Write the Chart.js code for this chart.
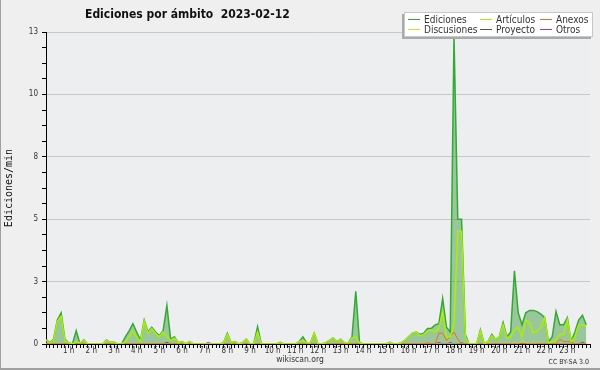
<!DOCTYPE html>
<html>
<head>
<meta charset="utf-8">
<title>Ediciones por ámbito</title>
<script src="https://cdn.jsdelivr.net/npm/chart.js@4.4.0/dist/chart.umd.min.js"></script>
<style>
body{margin:0;background:#efefef;}
canvas{display:block;}
</style>
</head>
<body>
<canvas id="myChart" width="600" height="370"></canvas>
<script>
var chartTitle = "Ediciones por ámbito  2023-02-12";
var yTitle = "Ediciones/min";
var siteName = "wikiscan.org";
var licence = "CC BY-SA 3.0";

var seriesNames = ["Ediciones", "Artículos", "Anexos", "Discusiones", "Proyecto", "Otros"];
var seriesColors = ["#33aa33", "#aaee00", "#ff6622", "#ffcc22", "#555555", "#9933ee"];

var hourLabels = ["1 h", "2 h", "3 h", "4 h", "5 h", "6 h", "7 h", "8 h", "9 h", "10 h", "11 h", "12 h",
	"13 h", "14 h", "15 h", "16 h", "17 h", "18 h", "19 h", "20 h", "21 h", "22 h", "23 h"];
var yTickLabels = ["0", "3", "5", "8", "10", "13"];

// one value every 10 minutes, one row per hour
var ediciones = [
	0.2, 0.05, 0.2, 1.0, 1.3, 0.2,
	0.05, 0, 0.55, 0, 0.17, 0,
	0, 0, 0, 0, 0.17, 0.07,
	0.07, 0, 0, 0.3, 0.55, 0.85,
	0.5, 0.15, 1.0, 0.5, 0.7, 0.5,
	0.35, 0.55, 1.6, 0.2, 0.3, 0.05,
	0.1, 0, 0.1, 0, 0, 0,
	0, 0, 0, 0, 0, 0.05,
	0.45, 0.05, 0.1, 0, 0.05, 0.2,
	0, 0, 0.72, 0, 0, 0,
	0, 0, 0.07, 0, 0, 0,
	0, 0.1, 0.3, 0.05, 0.05, 0.45,
	0, 0, 0.05, 0.15, 0.25, 0.1,
	0.2, 0.05, 0.05, 0.3, 2.2, 0.05,
	0, 0, 0, 0, 0, 0,
	0, 0.07, 0, 0, 0.05, 0.15,
	0.3, 0.45, 0.5, 0.4, 0.45, 0.65,
	0.65, 0.8, 0.85, 1.9, 0.7, 0.5,
	12.8, 5.2, 5.2, 0.4, 0, 0,
	0, 0.6, 0, 0.1, 0.4, 0.2,
	0.3, 0.9, 0.3, 0.5, 3.05, 1.3,
	0.8, 1.3, 1.4, 1.4, 1.35, 1.25,
	1.1, 0.1, 0.3, 1.35, 0.8, 0.8,
	1.1, 0.1, 0.5, 1.0, 1.2, 0.8
];
var articulos = [
	0.15, 0.05, 0.15, 0.95, 1.15, 0.15,
	0.05, 0, 0.1, 0.05, 0.15, 0,
	0, 0, 0, 0, 0.15, 0.07,
	0.07, 0, 0, 0.1, 0.3, 0.55,
	0.3, 0.1, 0.95, 0.45, 0.65, 0.45,
	0.3, 0.5, 0.3, 0.15, 0.25, 0.05,
	0.1, 0, 0.1, 0, 0, 0,
	0, 0, 0, 0, 0, 0.05,
	0.4, 0.05, 0.1, 0, 0.05, 0.2,
	0, 0, 0.5, 0, 0, 0,
	0, 0, 0.07, 0, 0, 0,
	0, 0.1, 0.15, 0.05, 0.05, 0.45,
	0, 0, 0.05, 0.15, 0.25, 0.1,
	0.2, 0.05, 0.05, 0.25, 0.3, 0.05,
	0, 0, 0, 0, 0, 0,
	0, 0.07, 0, 0, 0.05, 0.15,
	0.3, 0.45, 0.5, 0.35, 0.4, 0.55,
	0.6, 0.5, 0.65, 1.35, 0.3, 0.3,
	0.8, 4.7, 4.7, 0.3, 0, 0,
	0, 0.55, 0, 0.1, 0.35, 0.2,
	0.3, 0.8, 0.25, 0.3, 0.6, 0.7,
	0.3, 1.0, 0.9, 0.45, 0.55, 0.7,
	1.1, 0.05, 0.1, 0.15, 0.4, 0.4,
	1.0, 0.1, 0.3, 0.8, 0.8, 0.75
];
var anexos = [
	0, 0, 0, 0, 0, 0,  0, 0, 0, 0, 0, 0,  0, 0, 0, 0, 0, 0,  0, 0, 0, 0, 0, 0,
	0, 0, 0, 0, 0, 0,  0, 0, 0, 0, 0, 0,  0, 0, 0, 0, 0, 0,  0, 0, 0, 0, 0, 0,
	0, 0, 0, 0, 0, 0,  0, 0, 0, 0, 0, 0,  0, 0, 0, 0, 0, 0,  0, 0, 0, 0, 0, 0,
	0, 0, 0, 0, 0, 0,  0, 0, 0, 0, 0, 0.05,  0, 0, 0, 0, 0, 0,  0, 0, 0, 0, 0, 0,
	0, 0, 0, 0, 0, 0.05,  0, 0, 0.45, 0.45, 0.15, 0.3,  0.5, 0.2, 0, 0, 0, 0,  0, 0, 0, 0, 0, 0,
	0, 0, 0, 0, 0, 0,  0, 0, 0, 0, 0, 0,  0, 0, 0, 0, 0.2, 0.1,  0.1, 0.1, 0, 0, 0, 0
];
var discusiones = [
	0, 0, 0, 0, 0, 0,  0, 0, 0, 0, 0, 0,  0, 0, 0, 0, 0, 0,  0, 0, 0, 0, 0, 0,
	0, 0, 0, 0, 0, 0,  0, 0, 0, 0, 0, 0,  0, 0, 0, 0, 0, 0,  0, 0, 0, 0, 0, 0,
	0, 0, 0, 0, 0, 0,  0, 0, 0, 0, 0, 0,  0, 0, 0, 0, 0, 0,  0, 0, 0, 0, 0, 0,
	0, 0, 0, 0, 0, 0,  0, 0, 0, 0, 0, 0,  0, 0, 0, 0, 0, 0,  0, 0, 0, 0, 0, 0,
	0, 0, 0, 0, 0, 0,  0, 0, 0, 0, 0, 0,  0, 0, 0, 0, 0, 0,  0, 0, 0, 0.05, 0, 0,
	0, 0, 0, 0, 0.05, 0,  0.15, 0.05, 0, 0.05, 0, 0,  0, 0, 0, 0, 0, 0,  0, 0, 0, 0, 0, 0
];
var proyecto = [
	0, 0, 0, 0, 0, 0,  0, 0, 0, 0, 0, 0,  0, 0, 0, 0, 0, 0,  0, 0, 0, 0, 0, 0,
	0, 0, 0, 0, 0, 0,  0, 0, 0.07, 0, 0, 0,  0, 0, 0, 0, 0, 0,  0, 0, 0, 0, 0, 0,
	0, 0, 0, 0, 0, 0,  0, 0, 0, 0, 0, 0,  0, 0, 0, 0, 0, 0,  0, 0, 0, 0, 0, 0,
	0, 0, 0, 0, 0, 0,  0, 0, 0, 0, 0, 0,  0, 0, 0, 0, 0, 0,  0, 0, 0, 0, 0, 0,
	0, 0, 0, 0, 0, 0,  0, 0, 0, 0, 0, 0,  0, 0, 0.05, 0, 0, 0,  0, 0, 0, 0, 0, 0,
	0, 0, 0, 0, 0, 0,  0, 0, 0, 0, 0, 0,  0, 0, 0, 0, 0, 0,  0, 0, 0, 0, 0.07, 0
];
var otros = [
	0, 0, 0, 0, 0, 0,  0, 0, 0, 0, 0, 0,  0, 0, 0, 0, 0, 0,  0, 0, 0, 0, 0, 0,
	0, 0, 0, 0, 0, 0,  0, 0, 0, 0, 0, 0,  0, 0, 0, 0, 0, 0,  0, 0.07, 0, 0, 0, 0,
	0, 0, 0, 0, 0, 0,  0, 0, 0, 0, 0, 0,  0, 0, 0, 0, 0, 0,  0, 0, 0, 0, 0, 0,
	0, 0, 0, 0, 0, 0,  0, 0, 0, 0, 0, 0,  0, 0, 0, 0, 0, 0,  0, 0, 0, 0, 0, 0,
	0, 0, 0, 0, 0, 0,  0, 0, 0.07, 0, 0, 0.07,  0, 0, 0, 0, 0, 0,  0, 0, 0, 0, 0, 0,
	0, 0, 0, 0, 0, 0,  0, 0, 0, 0, 0, 0,  0, 0, 0, 0, 0, 0,  0, 0, 0, 0, 0, 0
];

var FONT = '"DejaVu Sans Condensed", "DejaVu Sans", sans-serif';

var slots = [];
for(var i = 0; i < ediciones.length; i++)
	slots.push(i);

function datasetObj(name, data, color, width)
{
	var x = {};
	x.label = name;
	x.data = data;
	x.borderColor = color;
	x.borderWidth = width;
	x.pointRadius = 0;
	x.pointHoverRadius = 0;
	x.tension = 0;
	x.fill = false;
	return x;
}

var datasets = [
	datasetObj(seriesNames[0], ediciones, seriesColors[0], 1.5),
	datasetObj(seriesNames[1], articulos, seriesColors[1], 1.5),
	datasetObj(seriesNames[2], anexos, seriesColors[2], 1),
	datasetObj(seriesNames[3], discusiones, seriesColors[3], 1),
	datasetObj(seriesNames[4], proyecto, seriesColors[4], 1),
	datasetObj(seriesNames[5], otros, seriesColors[5], 1)
];
datasets[0].fill = 'origin';
datasets[0].backgroundColor = 'rgba(50,150,50,0.45)';
datasets[0].order = 1;

var decor = {
	id: 'decor',
	beforeDraw: function(chart){
		var ctx = chart.ctx, a = chart.chartArea;
		ctx.save();
		ctx.fillStyle = '#efefef';
		ctx.fillRect(0, 0, chart.width, chart.height);
		ctx.fillStyle = '#edeef0';
		ctx.fillRect(a.left, a.top, a.right - a.left, a.bottom - a.top);
		ctx.fillStyle = '#a0a0a0';
		ctx.fillRect(0, 0, 1, chart.height);
		ctx.fillRect(0, chart.height - 2, chart.width, 2);
		ctx.restore();
	},
	afterDraw: function(chart){
		var ctx = chart.ctx;
		ctx.save();
		// title
		ctx.fillStyle = '#111';
		ctx.font = 'bold 12px ' + FONT;
		ctx.textBaseline = 'alphabetic';
		ctx.textAlign = 'left';
		ctx.fillText(chartTitle, 85, 18);
		// site and licence
		ctx.fillStyle = '#333';
		ctx.font = '8.5px ' + FONT;
		ctx.textAlign = 'center';
		ctx.fillText(siteName, 300, 362);
		ctx.font = '7px ' + FONT;
		ctx.textAlign = 'right';
		ctx.fillText(licence, 589, 364);
		// legend box with shadow
		ctx.fillStyle = '#aaaaaa';
		ctx.fillRect(402, 14, 189, 25);
		ctx.fillStyle = '#ffffff';
		ctx.fillRect(404, 12, 189, 25);
		ctx.strokeStyle = '#c8c8c8';
		ctx.lineWidth = 1;
		ctx.strokeRect(404.5, 12.5, 188, 24);
		var cols = [408, 480, 540];
		var rows = [19, 29];
		ctx.font = '10px ' + FONT;
		ctx.textAlign = 'left';
		ctx.textBaseline = 'middle';
		// legend order in the picture: Ediciones, Artículos, Anexos / Discusiones, Proyecto, Otros
		for(var k = 0; k < seriesNames.length; k++)
		{
			var cx = cols[k % 3], cy = rows[Math.floor(k / 3)];
			ctx.strokeStyle = seriesColors[k];
			ctx.beginPath();
			ctx.moveTo(cx, cy + 0.5);
			ctx.lineTo(cx + 12, cy + 0.5);
			ctx.stroke();
			ctx.fillStyle = '#333';
			ctx.fillText(seriesNames[k], cx + 16, cy + 1);
		}
		ctx.restore();
	}
};

var ctx = document.getElementById("myChart");
var mChart = new Chart(ctx, {
	type: 'line',
	data: {
		labels: slots,
		datasets: datasets
	},
	options: {
		responsive: false,
		animation: false,
		devicePixelRatio: 1,
		layout: { padding: { left: 0, right: 10, top: 32, bottom: 0 } },
		plugins: {
			legend: { display: false },
			title: { display: false },
			tooltip: { enabled: false },
			filler: { drawTime: 'beforeDatasetsDraw' }
		},
		scales: {
			x: {
				type: 'linear',
				min: 0,
				max: 144,
				z: 1,
				afterFit: function(scale){ scale.height = 26; },
				border: { display: true, color: '#000', width: 1 },
				grid: { drawOnChartArea: false, color: '#000', tickColor: '#000', tickLength: 4 },
				ticks: {
					stepSize: 1,
					autoSkip: false,
					maxRotation: 0,
					minRotation: 0,
					padding: -2,
					color: '#333',
					font: { family: FONT, size: 8 },
					callback: function(value){
						if(value % 6 === 0 && value > 0 && value < 144)
							return hourLabels[value / 6 - 1];
						return '';
					}
				}
			},
			y: {
				min: 0,
				max: 13,
				afterFit: function(scale){ scale.width = 46; },
				border: { display: true, color: '#000', width: 1 },
				grid: {
					color: function(c){ return (c.index % 4 === 0 && c.index > 0) ? '#c8c8c8' : 'rgba(0,0,0,0)'; },
					tickColor: '#000',
					tickLength: 4
				},
				title: {
					display: true,
					text: yTitle,
					color: '#111',
					padding: { top: 3, bottom: 0 },
					font: { family: '"DejaVu Sans Mono", monospace', size: 10 }
				},
				ticks: {
					stepSize: 0.65,
					autoSkip: false,
					padding: 4,
					color: '#333',
					font: { family: FONT, size: 8 },
					callback: function(value, index){
						return (index % 4 === 0) ? yTickLabels[index / 4] : '';
					}
				}
			}
		}
	},
	plugins: [decor]
});
</script>
</body>
</html>
